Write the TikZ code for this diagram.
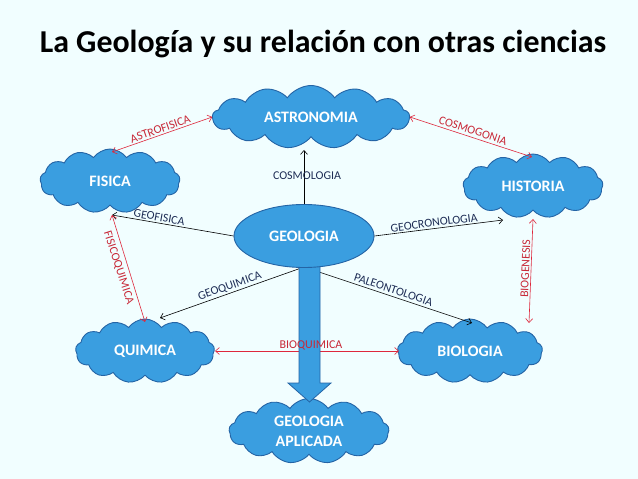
\documentclass[tikz,border=0pt]{standalone}
\usepackage{fontspec}
\setmainfont{Carlito}
\usetikzlibrary{shapes.symbols,shapes.geometric,calc,arrows.meta}
\definecolor{bgc}{RGB}{241,254,255}
\definecolor{cloudfill}{RGB}{58,158,224}
\definecolor{clouddraw}{RGB}{36,100,165}
\definecolor{redline}{RGB}{222,40,60}
\definecolor{redtext}{RGB}{200,40,55}
\definecolor{navytext}{RGB}{30,45,85}
\tikzset{
  cl/.style={cloud, cloud puffs=13, cloud puff arc=110, cloud ignores aspect, fill=cloudfill, draw=clouddraw, line width=0.9bp, text=white, font=\fontsize{16}{18}\selectfont\bfseries, align=center, inner sep=0pt, outer sep=0pt},
  blk/.style={draw=black, line width=0.6bp, -{Straight Barb[length=4bp,width=7bp]}},
  rd/.style={draw=redline, line width=0.6bp, {Straight Barb[length=4bp,width=7bp]}-{Straight Barb[length=4bp,width=7bp]}},
  blab/.style={text=navytext, font=\fontsize{12}{14}\selectfont, inner sep=1.5bp},
  rlab/.style={text=redtext, font=\fontsize{12}{14}\selectfont, inner sep=1.5bp},
}
\begin{document}
\begin{tikzpicture}[x=1bp,y=-1bp]
\fill[bgc] (0,0) rectangle (638,479);
\useasboundingbox (0,0) rectangle (638,479);
\node[font=\fontsize{32}{35}\selectfont\bfseries, anchor=base, inner sep=0pt] (title) at (323,53) {La Geología y su relación con otras ciencias};

\node[cl, minimum width=197bp, minimum height=63bp] (ast) at (311,117) {ASTRONOMIA};
\node[cl, minimum width=140bp, minimum height=64bp] (fis) at (110,181) {FISICA};
\node[cl, minimum width=140bp, minimum height=64bp] (his) at (533,186) {HISTORIA};
\node[cl, minimum width=139bp, minimum height=64bp] (qui) at (145,351) {QUIMICA};
\node[cl, minimum width=145bp, minimum height=64bp] (bio) at (470,351) {BIOLOGIA};
\node[cl, minimum width=160bp, minimum height=65bp] (apl) at (309,431) {GEOLOGIA\\[2bp]APLICADA};

% connection points on the shapes
\coordinate (geoS) at (304,267);
\coordinate (astB) at ($(ast.center)+(-7,33)$);
\coordinate (fisT) at ($(fis.center)+(2,-29)$);
\coordinate (fisB) at ($(fis.center)+(2,34)$);
\coordinate (hisT) at ($(his.center)+(-1,-29)$);
\coordinate (hisB) at ($(his.center)+(0,33)$);
\coordinate (hisL) at ($(his.center)+(-30,34)$);
\coordinate (quiT) at ($(qui.center)+(0,-29)$);
\coordinate (quiTR) at ($(qui.center)+(15,-33)$);
\coordinate (quiR) at ($(qui.center)+(70,0)$);
\coordinate (bioT) at ($(bio.center)+(2,-28)$);
\coordinate (bioTR) at ($(bio.center)+(59,-28)$);
\coordinate (bioL) at ($(bio.center)+(-71,0)$);

% black connectors
\draw[blk] (geoS) -- node[blab, pos=0.5, above, sloped] {GEOQUIMICA} (quiTR);
\draw[blk] (geoS) -- node[blab, pos=0.52, above=1bp, sloped] {PALEONTOLOGIA} (bioT);
\draw[rd] (quiR) -- (bioL);

% thick arrow
\draw[fill=cloudfill, draw=clouddraw, line width=0.8bp]
  (299,262) -- (299,383) -- (288,383) -- (309.5,402) -- (331,383) -- (320,383) -- (320,262);
\node[rlab] (bq) at (311,345) {BIOQUIMICA};

\node[ellipse, fill=cloudfill, draw=clouddraw, line width=0.9bp, minimum width=140bp, minimum height=63bp, inner sep=0pt, text=white, font=\fontsize{16}{18}\selectfont\bfseries] (geo) at (304,236) {GEOLOGIA};

\draw[blk] (geo.north -| astB) -- (astB);
\node[blab] (cosm) at (307,176) {COSMOLOGIA};
\draw[blk] (geo.west) -- node[blab, pos=0.62, above, sloped] {GEOFISICA} (fisB);
\draw[blk] (geo.east) -- node[blab, pos=0.47, above, sloped] {GEOCRONOLOGIA} (hisL);

% red connectors
\draw[rd] (fisT) -- node[rlab, above, sloped] {ASTROFISICA} (ast.west);
\draw[rd] (ast.east) -- node[rlab, above=1bp, sloped] {COSMOGONIA} (hisT);
\draw[rd] (fisB) -- (quiT);
\node[rlab, rotate=-72] (fq) at ($(fisB)!0.5!(quiT)+(-10,-1)$) {FISICOQUIMICA};
\draw[rd] (bioTR) -- node[rlab, above, sloped, pos=0.52] {BIOGENESIS} (hisB);
\end{tikzpicture}
\end{document}
